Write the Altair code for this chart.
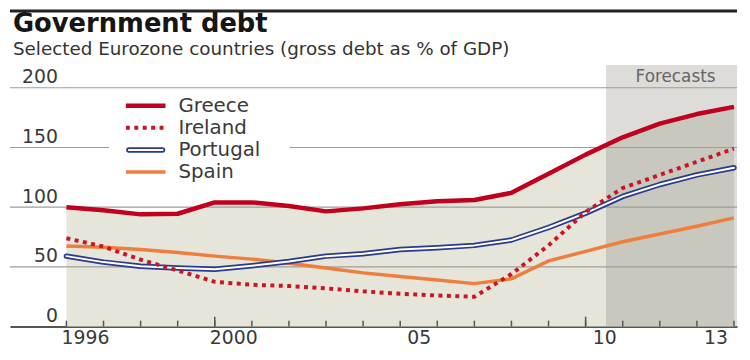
import altair as alt
import pandas as pd

title_text = "Government debt"
subtitle_text = "Selected Eurozone countries (gross debt as % of GDP)"
forecast_label = "Forecasts"

years = list(range(1996, 2015))
greece = [100, 97.5, 94, 94.5, 104, 104, 101, 96.5, 99, 102.5, 105, 106, 112, 128, 144, 158.5, 170, 178, 184]
ireland = [74, 67, 56, 47, 37.5, 35, 34, 32, 29.5, 27.5, 26, 25, 44, 68, 96, 116, 127, 138, 149]
portugal = [59, 54, 50.5, 49, 48, 51, 54.5, 59, 61, 64.5, 66, 68, 72.5, 83, 95, 109, 119, 127, 133]
spain = [67.5, 66.5, 64.5, 62, 59, 56.5, 53, 49, 45, 42, 39, 36, 40, 55, 63, 71, 77.5, 84, 91]

series = ["Greece", "Ireland", "Portugal", "Spain"]
y_ticks = [0, 50, 100, 150, 200]
x_label_years = [1996, 2000, 2005, 2010, 2013]
x_major_ticks = [2000, 2010]
forecast_start = 2010.55
forecast_end = 2014.3

# layout / style
W, H = 734, 264
X_DOMAIN = [1994.478, 2014.083]
Y_DOMAIN = [0, 219]
FONT = "DejaVu Sans"
C_GREECE = "#c0001d"
C_IRELAND = "#cc1422"
C_PORTUGAL = "#2a3a8e"
C_SPAIN = "#f07d3c"
BEIGE = "#e6e5da"
DARK = "#c9c8bf"
FORECAST = "#dddcd8"
GRID = "#9d9d9d"
AXIS = "#555555"
TXT = "#3a3a3a"

xs = alt.Scale(domain=X_DOMAIN, nice=False, zero=False)
ys = alt.Scale(domain=Y_DOMAIN, nice=False, zero=False)

long_df = pd.DataFrame({
    "year": years * 4,
    "series": sum([[s] * len(years) for s in series], []),
    "value": greece + ireland + portugal + spain,
})
wide_df = pd.DataFrame({"year": years, "Greece": greece})
one = pd.DataFrame({"a": [0]})

x_axis = alt.Axis(
    values=x_label_years,
    labelExpr="datum.value == 1996 || datum.value == 2000 ? format(datum.value, 'd') : slice(format(datum.value, 'd'), 2)",
    ticks=False, tickSize=0, grid=False, domain=True, domainColor=AXIS, domainWidth=2,
    labelOffset=18.7, labelPadding=2, labelFontSize=19, labelFont=FONT, labelColor=TXT,
    title=None, labelOverlap=False, labelBound=False, labelFlush=False,
)
y_axis = alt.Axis(
    values=y_ticks, grid=False, domain=False, ticks=False, tickSize=0,
    labelPadding=-48, labelAlign="right", labelBaseline="alphabetic", labelOffset=-5,
    labelFontSize=19, labelFont=FONT, labelColor=TXT, title=None,
)

fc_df = pd.DataFrame({"start": [forecast_start], "end": [forecast_end]})
forecast_rect = alt.Chart(fc_df).mark_rect(color=FORECAST, clip=True).encode(
    x=alt.X("start:Q", scale=xs, axis=x_axis), x2="end:Q", y=alt.value(0), y2=alt.value(H)
)

# beige area up to the forecast boundary, darker grey inside the forecast band
split = (forecast_start - years[0]) / (years[-1] - years[0])
area_fill = alt.LinearGradient(
    gradient="linear", x1=0, x2=1, y1=0, y2=0,
    stops=[
        alt.GradientStop(color=BEIGE, offset=0),
        alt.GradientStop(color=BEIGE, offset=split),
        alt.GradientStop(color=DARK, offset=split),
        alt.GradientStop(color=DARK, offset=1),
    ],
)
area = alt.Chart(wide_df).mark_area(color=area_fill).encode(
    x=alt.X("year:Q", scale=xs),
    y=alt.Y("Greece:Q", scale=ys, axis=y_axis),
)

grid = alt.Chart(pd.DataFrame({"v": y_ticks[1:]})).mark_rule(color=GRID, strokeWidth=1.2).encode(
    y=alt.Y("v:Q", scale=ys)
)

fc_text = alt.Chart(pd.DataFrame({"pos": [(forecast_start + forecast_end) / 2], "label": [forecast_label]})).mark_text(
    font=FONT, fontSize=17, color="#666666", align="center", baseline="alphabetic"
).encode(x=alt.X("pos:Q", scale=xs), y=alt.value(17), text="label:N")

minor_ticks = alt.Chart(pd.DataFrame({"year": years})).mark_rule(color=AXIS, strokeWidth=1.5).encode(
    x=alt.X("year:Q", scale=xs), y=alt.value(H), y2=alt.value(H - 6)
)
major_ticks = alt.Chart(pd.DataFrame({"year": x_major_ticks})).mark_rule(color=AXIS, strokeWidth=1.5).encode(
    x=alt.X("year:Q", scale=xs), y=alt.value(H), y2=alt.value(H - 10)
)

base = alt.Chart(long_df)


def line(name, **kw):
    return base.transform_filter(alt.datum.series == name).mark_line(**kw).encode(
        x=alt.X("year:Q", scale=xs), y=alt.Y("value:Q", scale=ys)
    )


spain_l = line("Spain", color=C_SPAIN, strokeWidth=3.5)
port_o = line("Portugal", color=C_PORTUGAL, strokeWidth=5.5, strokeCap="round", strokeJoin="round")
port_i = line("Portugal", color="white", strokeWidth=2, strokeCap="round", strokeJoin="round")
ire_l = line("Ireland", color=C_IRELAND, strokeWidth=4, strokeDash=[4, 4.5])
gre_l = line("Greece", color=C_GREECE, strokeWidth=4.5, strokeJoin="round")

legend_box = alt.Chart(one).mark_rect(color="white").encode(
    x=alt.value(100), x2=alt.value(282), y=alt.value(28), y2=alt.value(119)
)

main = alt.layer(
    forecast_rect, area, grid, fc_text, minor_ticks, major_ticks,
    spain_l, port_o, port_i, ire_l, gre_l, legend_box,
)

# legend
leg_df = pd.DataFrame({"series": series})
ly = alt.Scale(type="point", domain=series, range=[41, 108], padding=0)


def leg_rule(name, x1, x2, **kw):
    return alt.Chart(leg_df).transform_filter(alt.datum.series == name).mark_rule(**kw).encode(
        x=alt.value(x1), x2=alt.value(x2), y=alt.Y("series:N", scale=ly, axis=None)
    )


legend = alt.layer(
    leg_rule("Greece", 117, 157, color=C_GREECE, strokeWidth=4.5),
    leg_rule("Ireland", 117, 157, color=C_IRELAND, strokeWidth=4, strokeDash=[4, 4.5]),
    leg_rule("Portugal", 120, 154, color=C_PORTUGAL, strokeWidth=5.5, strokeCap="round"),
    leg_rule("Portugal", 120, 154, color="white", strokeWidth=2, strokeCap="round"),
    leg_rule("Spain", 117, 157, color=C_SPAIN, strokeWidth=3.5),
    alt.Chart(leg_df).mark_text(align="left", baseline="middle", font=FONT, fontSize=20, color=TXT).encode(
        x=alt.value(170), y=alt.Y("series:N", scale=ly, axis=None), text="series:N"
    ),
)

band = alt.Chart(one).mark_rule(color="#222222", strokeWidth=3).encode(
    x=alt.value(0), x2=alt.value(W), y=alt.value(-54.5)
)
title = alt.Chart(one).mark_text(
    align="left", baseline="alphabetic", font=FONT, fontSize=26, fontWeight="bold", color="#151515"
).encode(x=alt.value(3), y=alt.value(-33), text=alt.value(title_text))
subtitle = alt.Chart(one).mark_text(
    align="left", baseline="alphabetic", font=FONT, fontSize=18.5, color="#333333"
).encode(x=alt.value(3), y=alt.value(-10), text=alt.value(subtitle_text))

chart = alt.layer(band, title, subtitle, main, legend).resolve_scale(y="independent").properties(
    width=W, height=H, padding=0, background="white"
).configure_view(stroke=None)

chart.save("out.html", embed_options={"renderer": "svg", "actions": False})
